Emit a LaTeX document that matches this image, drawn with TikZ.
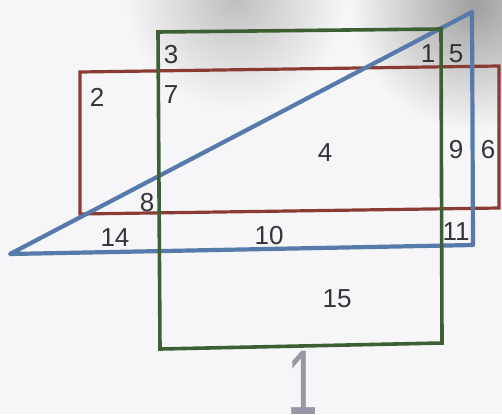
\documentclass[tikz,border=0pt]{standalone}
\usepackage{fontspec}
\setmainfont{Liberation Sans}
\definecolor{rectred}{RGB}{138,60,52}
\definecolor{sqgreen}{RGB}{60,96,52}
\definecolor{triblue}{RGB}{86,122,170}
\definecolor{numgray}{RGB}{52,52,56}
\definecolor{paper}{RGB}{246,246,248}
\begin{document}
\begin{tikzpicture}[x=1pt,y=-1pt,
	num/.style={text=numgray,inner sep=0pt,font=\fontsize{26}{26}\selectfont}]
	\useasboundingbox (0,0) rectangle (502,414);
	\fill[paper] (0,0) rectangle (502,414);
	% smudges at the top
	\begin{scope}
		\clip (0,0) rectangle (502,414);
		\shade[inner color=gray!50, outer color=paper] (235,0) circle (110);
		\shade[inner color=gray!75, outer color=paper] (475,5) circle (125);
	\end{scope}
	% corners
	\coordinate (r1) at (80,72);
	\coordinate (r2) at (499,66);
	\coordinate (r3) at (499,208);
	\coordinate (r4) at (80,214);
	\coordinate (g1) at (158,32);
	\coordinate (g2) at (441,29);
	\coordinate (g3) at (442,343);
	\coordinate (g4) at (160,349);
	\coordinate (t1) at (10,254);
	\coordinate (t2) at (472,12);
	\coordinate (t3) at (473,245);
	\draw[rectred, line width=3.2pt] (r1) -- (r2) -- (r3) -- (r4) -- cycle;
	\draw[triblue, line width=4.2pt, line join=round] (t1) -- (t2) -- (t3) -- cycle;
	\draw[sqgreen, line width=3.6pt] (g1) -- (g2) -- (g3) -- (g4) -- cycle;
	% region numbers
	\node[num] (n1) at (428,54) {1};
	\node[num] (n2) at (97,97) {2};
	\node[num] (n3) at (171,55) {3};
	\node[num] (n4) at (325,153) {4};
	\node[num] (n5) at (456,54) {5};
	\node[num] (n6) at (488,150) {6};
	\node[num] (n7) at (171,95) {7};
	\node[num] (n8) at (147,203) {8};
	\node[num] (n9) at (456,150) {9};
	\node[num] (n10) at (269,236) {10};
	\node[num] (n11) at (456,232) {11};
	\node[num] (n14) at (115,238) {14};
	\node[num] (n15) at (337,299) {15};
	\node[text={rgb,255:red,150;green,152;blue,165}, inner sep=0pt, anchor=north,
		font=\fontsize{92}{92}\selectfont] (page) at (303,351) {\scalebox{0.6}[1]{1}};
\end{tikzpicture}
\end{document}
